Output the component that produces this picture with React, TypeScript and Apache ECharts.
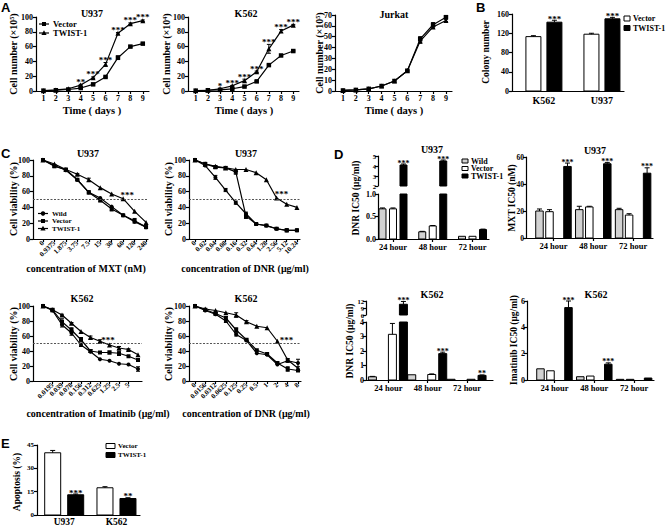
import React, { useEffect, useRef } from 'react';
import * as echarts from 'echarts';

const SERIF = '"Liberation Serif", "Times New Roman", serif';
const SANS = '"Liberation Sans", Arial, sans-serif';

// ================= Panel A: growth curves =================
const days = [1, 2, 3, 4, 5, 6, 7, 8, 9];
const dayLabels = ['1', '2', '3', '4', '5', '6', '7', '8', '9'];
const u937GrowthVector = [0.5, 1, 2, 4, 9, 19, 45, 60, 64];
const u937GrowthVectorErr = [0, 0, 0, 0.5, 0.8, 1, 2.5, 1, 1];
const u937GrowthTwist = [0.5, 1.5, 3, 8, 18, 36, 78, 91, 95];
const u937GrowthTwistErr = [0, 0, 0.5, 1, 1, 2.5, 1, 1, 1];
const u937GrowthStars = ['', '', '', '**', '***', '***', '***', '***', '***'];

const k562GrowthVector = [0.5, 1, 1.5, 3, 6, 13, 35, 48, 54];
const k562GrowthVectorErr = [0, 0, 0, 0.5, 0.5, 1, 1, 1, 1];
const k562GrowthTwist = [0.5, 1, 3, 7, 14, 26, 57, 81, 89];
const k562GrowthTwistErr = [0, 0, 0.5, 0.5, 2, 1, 6, 2, 1];
const k562GrowthStars = ['', '', '*', '***', '***', '***', '***', '***', '***'];

const jurkatGrowthVector = [0.5, 1, 2, 4.6, 9.2, 18.7, 48, 61, 68];
const jurkatGrowthVectorErr = [0, 0, 0, 0, 0, 0.5, 2, 2, 1];
const jurkatGrowthTwist = [0.5, 1, 2, 4.6, 9.2, 18.7, 46, 59, 65];
const jurkatGrowthTwistErr = [0, 0, 0, 0, 0, 0.5, 2, 1, 1];

// ================= Panel B: colony number =================
const colonyCells = ['K562', 'U937'];
const colonyVector = [113, 118];
const colonyVectorErr = [2, 2];
const colonyTwist = [143, 150];
const colonyTwistErr = [4, 3];
const colonyStars = ['***', '***'];

// ================= Panel C: viability curves =================
const mxtDoses = ['0', '0.9375', '1.875', '3.75', '7.5', '15', '30', '60', '120', '240'];
const u937MxtWild = [100, 93, 87, 75, 59, 52, 41, 30, 22, 15];
const u937MxtWildErr = [0, 0, 0, 0, 0, 0, 0, 0, 0, 0];
const u937MxtVector = [100, 92, 88, 75, 59, 49, 38, 30, 23, 15];
const u937MxtVectorErr = [0, 1.5, 1, 1, 2, 2, 2.5, 1, 3, 1.5];
const u937MxtTwist = [100, 95, 88, 82, 75, 65, 57, 51, 35, 21];
const u937MxtTwistErr = [0, 0, 1, 1, 2, 0, 0, 0, 0, 0];

const dnrU937Doses = ['0', '0.02', '0.04', '0.08', '0.16', '0.32', '0.64', '1.28', '2.56', '5.12', '10.24'];
const u937DnrWild = [100, 93, 78, 62, 46, 32, 19, 17, 13, 11, 11];
const u937DnrWildErr = [0, 1, 2.5, 2, 2, 2, 0, 0, 1, 1, 1];
const u937DnrVector = [100, 95, 91, 90, 85, 29, 19, 17, 13, 11, 11];
const u937DnrVectorErr = [0, 2, 2, 1.5, 3, 3, 1, 1, 1, 2, 1.5];
const u937DnrTwist = [100, 95, 92, 90, 88, 88, 84, 75, 52, 44, 40];
const u937DnrTwistErr = [0, 0, 0, 0, 0, 0, 0, 0, 0, 0, 0];

const imaDoses = ['0', '0.0195', '0.039', '0.078', '0.156', '0.312', '0.625', '1.25', '2.5', '5', '10'];
const k562ImaWild = [100, 94, 75, 64, 48, 39, 29, 27, 23, 22, 16];
const k562ImaWildErr = [0, 0, 3, 3, 2, 0, 0, 0, 0, 0, 3];
const k562ImaVector = [100, 95, 79, 68, 55, 40, 38, 38, 37, 33, 28];
const k562ImaVectorErr = [0, 1, 4, 3, 3, 2, 0, 2, 3, 0, 2];
const k562ImaTwist = [100, 95, 88, 77, 66, 58, 53, 48, 44, 42, 35];
const k562ImaTwistErr = [0, 1, 1, 1, 0, 2, 2, 0, 2, 1, 0];

const dnrK562Doses = ['0', '0.0156', '0.0312', '0.0625', '0.125', '0.25', '0.5', '1', '2', '4', '8'];
const k562DnrWild = [100, 94, 89, 80, 62, 54, 37, 35, 22, 27, 24];
const k562DnrWildErr = [0, 0, 1, 2, 2, 0, 0, 0, 0, 2, 5];
const k562DnrVector = [100, 95, 90, 84, 68, 55, 41, 36, 24, 16, 14];
const k562DnrVectorErr = [0, 1, 2, 2, 3, 1, 0, 1, 1, 3, 0];
const k562DnrTwist = [100, 96, 94, 91, 88, 79, 73, 71, 53, 28, 17];
const k562DnrTwistErr = [0, 0, 0, 0, 3, 1.5, 0, 0, 0, 2, 0];

// ================= Panel D: IC50 =================
const icTimes = ['24 hour', '48 hour', '72 hour'];
const u937DnrIcWild = [0.67, 0.16, 0.06];
const u937DnrIcWildErr = [0.02, 0.01, 0];
const u937DnrIcVector = [0.67, 0.29, 0.06];
const u937DnrIcVectorErr = [0.02, 0.01, 0];
const u937DnrIcTwist = [4.1, 4.5, 0.21];
const u937DnrIcTwistErr = [0.1, 0.1, 0.01];
const u937DnrIcStars = ['***', '***', ''];

const u937MxtIcWild = [20, 21, 21];
const u937MxtIcWildErr = [1.5, 2.5, 1];
const u937MxtIcVector = [19.5, 23, 17];
const u937MxtIcVectorErr = [1.5, 0.5, 1];
const u937MxtIcTwist = [53, 55, 48];
const u937MxtIcTwistErr = [2.5, 1, 4];
const u937MxtIcStars = ['***', '***', '***'];

const k562DnrIcWild = [0.22, 0.36, 0.05];
const k562DnrIcWildErr = [0.03, 0, 0];
const k562DnrIcVector = [3.15, 0.38, 0.05];
const k562DnrIcVectorErr = [0.75, 0.04, 0];
const k562DnrIcTwist = [10.6, 1.82, 0.32];
const k562DnrIcTwistErr = [1.2, 0.1, 0.03];
const k562DnrIcStars = ['***', '***', '**'];

const k562ImaIcWild = [0.85, 0.25, 0.05];
const k562ImaIcWildErr = [0, 0, 0];
const k562ImaIcVector = [0.7, 0.3, 0.05];
const k562ImaIcVectorErr = [0, 0, 0];
const k562ImaIcTwist = [5.5, 1.2, 0.15];
const k562ImaIcTwistErr = [0.5, 0.1, 0];
const k562ImaIcStars = ['***', '***', ''];

// ================= Panel E: apoptosis =================
const apoCells = ['U937', 'K562'];
const apoVector = [40, 17.5];
const apoVectorErr = [1.5, 0.7];
const apoTwist = [13, 10.6];
const apoTwistErr = [0.5, 0.5];
const apoStars = ['***', '**'];

// ================= builders =================
const BLACK = '#000';
const GRAY = '#d2d2d2';

function idxs(n: number) {
  return Array.from({ length: n }, (_, i) => i);
}

function buildOption() {
  const grid: any[] = [];
  const xAxis: any[] = [];
  const yAxis: any[] = [];
  const series: any[] = [];
  const graphic: any[] = [];

  const axisLineStyle = { color: BLACK, width: 1.2 };
  const labelBase = { color: BLACK, fontFamily: SERIF, fontWeight: 'bold' };

  function addPlot(g: any, x: any, y: any) {
    const idx = grid.length;
    grid.push({ left: g.left, top: g.top, width: g.width, height: g.height, containLabel: false });
    xAxis.push({
      type: 'value',
      gridIndex: idx,
      min: x.min,
      max: x.max,
      show: x.show !== false,
      axisLine: { show: true, onZero: false, lineStyle: axisLineStyle },
      axisTick: { show: x.showTick !== false, length: 3, customValues: x.ticks, lineStyle: axisLineStyle },
      axisLabel: {
        ...labelBase,
        fontSize: x.fontSize ?? 8,
        margin: x.margin ?? 3,
        rotate: x.rotate ?? 0,
        customValues: x.ticks,
        formatter: (v: number) => {
          const i = (x.ticks || []).findIndex((t: number) => Math.abs(t - v) < 1e-6);
          return i >= 0 ? x.labels[i] : '';
        },
      },
      splitLine: { show: false },
    });
    yAxis.push({
      type: 'value',
      gridIndex: idx,
      min: y.min,
      max: y.max,
      interval: y.interval,
      axisLine: { show: true, onZero: false, lineStyle: axisLineStyle },
      axisTick: { show: true, length: 3, lineStyle: axisLineStyle },
      axisLabel: { ...labelBase, fontSize: y.fontSize ?? 8, margin: y.margin ?? 3, formatter: y.formatter },
      splitLine: { show: false },
    });
    return idx;
  }

  function lineSeries(ax: number, name: string, xs: number[], vals: number[], symbol: string, size: number, extra: any = {}) {
    return {
      type: 'line',
      name,
      xAxisIndex: ax,
      yAxisIndex: ax,
      data: xs.map((x, i) => [x, vals[i]]),
      symbol,
      symbolSize: size,
      showSymbol: true,
      silent: true,
      clip: false,
      lineStyle: { color: BLACK, width: 1.2 },
      itemStyle: { color: BLACK, borderWidth: 0 },
      emphasis: { disabled: true },
      z: 3,
      ...extra,
    };
  }

  function errSeries(ax: number, xs: number[], vals: number[], errs: number[]) {
    return {
      type: 'custom',
      xAxisIndex: ax,
      yAxisIndex: ax,
      silent: true,
      z: 4,
      data: xs.map((x, i) => [x, vals[i], errs[i]]),
      renderItem: (params: any, api: any) => {
        const x = api.value(0);
        const v = api.value(1);
        const e = api.value(2);
        if (!e) return { type: 'group', children: [] };
        const lo = api.coord([x, v - e]);
        const hi = api.coord([x, v + e]);
        const st = { stroke: BLACK, lineWidth: 1 };
        return {
          type: 'group',
          children: [
            { type: 'line', shape: { x1: lo[0], y1: lo[1], x2: hi[0], y2: hi[1] }, style: st },
            { type: 'line', shape: { x1: hi[0] - 2, y1: hi[1], x2: hi[0] + 2, y2: hi[1] }, style: st },
            { type: 'line', shape: { x1: lo[0] - 2, y1: lo[1], x2: lo[0] + 2, y2: lo[1] }, style: st },
          ],
        };
      },
    };
  }

  function starSeries(ax: number, pts: number[][], texts: string[], dx = 0, dy = 0, size = 9) {
    return {
      type: 'custom',
      xAxisIndex: ax,
      yAxisIndex: ax,
      silent: true,
      z: 5,
      data: pts,
      renderItem: (params: any, api: any) => {
        const t = texts[params.dataIndex];
        if (!t) return { type: 'group', children: [] };
        const p = api.coord([api.value(0), api.value(1)]);
        return {
          type: 'text',
          x: p[0] + dx,
          y: p[1] + dy,
          style: {
            text: t,
            textAlign: 'center',
            textVerticalAlign: 'bottom',
            fontFamily: SERIF,
            fontWeight: 'bold',
            fontSize: size,
            fill: BLACK,
          },
        };
      },
    };
  }

  function barSeries(ax: number, name: string, xs: number[], vals: number[], errs: number[], offset: number, w: number, fill: string, stars?: string[], starSize = 9) {
    return {
      type: 'custom',
      name,
      xAxisIndex: ax,
      yAxisIndex: ax,
      silent: true,
      z: 3,
      data: xs.map((x, i) => [x, vals[i], errs[i]]),
      renderItem: (params: any, api: any) => {
        const x = api.value(0);
        const v = api.value(1);
        const e = api.value(2);
        const cs = params.coordSys;
        const p0 = api.coord([x, 0]);
        const p1 = api.coord([x, v]);
        const cx = p0[0] + offset;
        const children: any[] = [];
        const top = Math.max(p1[1], cs.y);
        const bottom = Math.min(p0[1], cs.y + cs.height);
        if (bottom > top) {
          children.push({
            type: 'rect',
            shape: { x: cx - w / 2, y: top, width: w, height: bottom - top },
            style: { fill, stroke: BLACK, lineWidth: 1 },
          });
        }
        const inRange = p1[1] >= cs.y - 0.5 && p1[1] <= cs.y + cs.height + 0.5;
        let labelY = p1[1];
        if (inRange && e > 0) {
          const pe = api.coord([x, v + e]);
          const st = { stroke: BLACK, lineWidth: 1 };
          children.push({ type: 'line', shape: { x1: cx, y1: p1[1], x2: cx, y2: pe[1] }, style: st });
          children.push({ type: 'line', shape: { x1: cx - 2.5, y1: pe[1], x2: cx + 2.5, y2: pe[1] }, style: st });
          labelY = pe[1];
        }
        const s = stars ? stars[params.dataIndex] : '';
        if (inRange && s) {
          children.push({
            type: 'text',
            x: cx,
            y: labelY + 3,
            style: {
              text: s,
              textAlign: 'center',
              textVerticalAlign: 'bottom',
              fontFamily: SERIF,
              fontWeight: 'bold',
              fontSize: starSize,
              fill: BLACK,
            },
          });
        }
        return { type: 'group', children };
      },
    };
  }

  const txt = (x: number, y: number, text: string, o: any = {}) => ({
    type: 'text',
    x,
    y,
    rotation: o.rot ?? 0,
    silent: true,
    style: {
      text,
      fill: BLACK,
      fontFamily: o.family ?? SERIF,
      fontWeight: 'bold',
      fontSize: o.size ?? 10,
      textAlign: o.align ?? 'center',
      textVerticalAlign: o.va ?? 'middle',
    },
  });
  const yName = (x: number, y: number, text: string, size = 10) => txt(x, y, text, { rot: Math.PI / 2, size });

  const marker = (cx: number, cy: number, sym: string) => {
    if (sym === 'rect') return { type: 'rect', silent: true, shape: { x: cx - 2, y: cy - 2, width: 4, height: 4 }, style: { fill: BLACK } };
    if (sym === 'circle') return { type: 'circle', silent: true, shape: { cx, cy, r: 2.2 }, style: { fill: BLACK } };
    return { type: 'polygon', silent: true, shape: { points: [[cx, cy - 2.8], [cx + 2.6, cy + 2], [cx - 2.6, cy + 2]] }, style: { fill: BLACK } };
  };
  const lineLegend = (x: number, y: number, label: string, sym: string, size = 8.5) => [
    { type: 'line', silent: true, shape: { x1: x, y1: y, x2: x + 10, y2: y }, style: { stroke: BLACK, lineWidth: 1.2 } },
    marker(x + 5, y, sym),
    txt(x + 14, y, label, { align: 'left', size }),
  ];
  const boxLegend = (x: number, y: number, w: number, h: number, fill: string, label: string, size = 8) => [
    { type: 'rect', silent: true, shape: { x, y: y - h / 2, width: w, height: h }, style: { fill, stroke: BLACK, lineWidth: 1 } },
    txt(x + w + 3, y, label, { align: 'left', size }),
  ];

  // ---------- Panel A ----------
  const a1 = addPlot({ left: 36, top: 17, width: 113, height: 74 }, { min: 0.4, max: 9.5, ticks: days, labels: dayLabels }, { min: 0, max: 100, interval: 20 });
  const a2 = addPlot({ left: 188, top: 17, width: 111, height: 74 }, { min: 0.37, max: 9.47, ticks: days, labels: dayLabels }, { min: 0, max: 100, interval: 20 });
  const a3 = addPlot({ left: 335, top: 15, width: 117, height: 76 }, { min: 0.38, max: 9.47, ticks: days, labels: dayLabels }, { min: 0, max: 70, interval: 10 });

  const growth = [
    [a1, u937GrowthVector, u937GrowthVectorErr, u937GrowthTwist, u937GrowthTwistErr, u937GrowthStars],
    [a2, k562GrowthVector, k562GrowthVectorErr, k562GrowthTwist, k562GrowthTwistErr, k562GrowthStars],
    [a3, jurkatGrowthVector, jurkatGrowthVectorErr, jurkatGrowthTwist, jurkatGrowthTwistErr, null],
  ] as any[];
  growth.forEach(([ax, vec, vecErr, tw, twErr, stars]) => {
    series.push(lineSeries(ax, 'Vector', days, vec, 'rect', 4.5));
    series.push(lineSeries(ax, 'TWIST-1', days, tw, 'triangle', 5));
    series.push(errSeries(ax, days, vec, vecErr));
    series.push(errSeries(ax, days, tw, twErr));
    if (stars) {
      series.push(starSeries(ax, days.map((d, i) => [d, tw[i] + twErr[i]]), stars, 0, 2, 9));
    }
  });

  // ---------- Panel B ----------
  const b = addPlot({ left: 512, top: 14, width: 112, height: 77 }, { min: -0.55, max: 1.38, ticks: [0, 1], labels: colonyCells, fontSize: 10, showTick: false, margin: 4 }, { min: 0, max: 160, interval: 40 });
  series.push(barSeries(b, 'Vector', [0, 1], colonyVector, colonyVectorErr, -10.5, 15, '#fff'));
  series.push(barSeries(b, 'TWIST-1', [0, 1], colonyTwist, colonyTwistErr, 10.5, 15, BLACK, colonyStars));

  // ---------- Panel C ----------
  const dashed = {
    silent: true,
    symbol: ['none', 'none'],
    label: { show: false },
    lineStyle: { color: '#555', type: [2, 1.5], width: 1 },
    data: [{ yAxis: 50 }],
  };
  const c1 = addPlot({ left: 33, top: 160, width: 115, height: 79 }, { min: -0.87, max: 9.17, ticks: idxs(10), labels: mxtDoses, rotate: 45, fontSize: 7 }, { min: 0, max: 100, interval: 20 });
  const c2 = addPlot({ left: 189, top: 160, width: 111, height: 79 }, { min: -0.59, max: 10.3, ticks: idxs(11), labels: dnrU937Doses, rotate: 45, fontSize: 7 }, { min: 0, max: 100, interval: 20 });
  const c3 = addPlot({ left: 33, top: 306, width: 109, height: 75 }, { min: -1.05, max: 10.42, ticks: idxs(11), labels: imaDoses, rotate: 45, fontSize: 7 }, { min: 0, max: 100, interval: 20 });
  const c4 = addPlot({ left: 189, top: 306, width: 112, height: 75 }, { min: -0.58, max: 10.29, ticks: idxs(11), labels: dnrK562Doses, rotate: 45, fontSize: 7 }, { min: 0, max: 100, interval: 20 });

  const viability = [
    [c1, u937MxtWild, u937MxtWildErr, u937MxtVector, u937MxtVectorErr, u937MxtTwist, u937MxtTwistErr, 7, 4, 1],
    [c2, u937DnrWild, u937DnrWildErr, u937DnrVector, u937DnrVectorErr, u937DnrTwist, u937DnrTwistErr, 8, 5, 1],
    [c3, k562ImaWild, k562ImaWildErr, k562ImaVector, k562ImaVectorErr, k562ImaTwist, k562ImaTwistErr, 6, 8, 3],
    [c4, k562DnrWild, k562DnrWildErr, k562DnrVector, k562DnrVectorErr, k562DnrTwist, k562DnrTwistErr, 8, 9, 3],
  ] as any[];
  viability.forEach(([ax, wild, wildErr, vec, vecErr, tw, twErr, starIdx, sdx, sdy]) => {
    const xs = idxs(wild.length);
    series.push(lineSeries(ax, 'Wild', xs, wild, 'circle', 4));
    series.push(lineSeries(ax, 'Vector', xs, vec, 'rect', 4));
    series.push(lineSeries(ax, 'TWIST-1', xs, tw, 'triangle', 5, { markLine: dashed }));
    series.push(errSeries(ax, xs, wild, wildErr));
    series.push(errSeries(ax, xs, vec, vecErr));
    series.push(errSeries(ax, xs, tw, twErr));
    series.push(starSeries(ax, [[starIdx, tw[starIdx]]], ['***'], sdx, sdy, 9));
  });

  // ---------- Panel D ----------
  const t3 = [0, 1, 2];
  const dLow1 = addPlot({ left: 378, top: 194, width: 111, height: 45 }, { min: -0.377, max: 2.415, ticks: t3, labels: icTimes, fontSize: 8.5 }, { min: 0, max: 1, interval: 0.5, margin: 2, formatter: (v: number) => v.toFixed(1) });
  const dUp1 = addPlot({ left: 378, top: 156, width: 111, height: 30 }, { min: -0.377, max: 2.415, show: false }, { min: 2, max: 5, interval: 1, fontSize: 6.5, margin: 2 });
  [dLow1, dUp1].forEach((ax) => {
    series.push(barSeries(ax, 'Wild', t3, u937DnrIcWild, u937DnrIcWildErr, -10.5, 7, GRAY));
    series.push(barSeries(ax, 'Vector', t3, u937DnrIcVector, u937DnrIcVectorErr, 0, 7, '#fff'));
    series.push(barSeries(ax, 'TWIST-1', t3, u937DnrIcTwist, u937DnrIcTwistErr, 10.5, 7, BLACK, u937DnrIcStars, 8));
  });

  const d2 = addPlot({ left: 526, top: 157, width: 127, height: 81 }, { min: -0.69, max: 2.5, ticks: t3, labels: icTimes, fontSize: 8.5 }, { min: 0, max: 60, interval: 20, margin: 2, fontSize: 7.5 });
  series.push(barSeries(d2, 'Wild', t3, u937MxtIcWild, u937MxtIcWildErr, -14, 7.5, GRAY));
  series.push(barSeries(d2, 'Vector', t3, u937MxtIcVector, u937MxtIcVectorErr, -4, 7.5, '#fff'));
  series.push(barSeries(d2, 'TWIST-1', t3, u937MxtIcTwist, u937MxtIcTwistErr, 14, 7.5, BLACK, u937MxtIcStars, 8));

  const dLow3 = addPlot({ left: 366, top: 322, width: 127, height: 58 }, { min: -0.57, max: 2.66, ticks: t3, labels: icTimes, fontSize: 8.5 }, { min: 0, max: 4, interval: 1, margin: 2 });
  const dUp3 = addPlot({ left: 366, top: 301, width: 127, height: 14 }, { min: -0.57, max: 2.66, show: false }, { min: 6, max: 12, interval: 3, fontSize: 6.5, margin: 2 });
  [dLow3, dUp3].forEach((ax) => {
    series.push(barSeries(ax, 'Wild', t3, k562DnrIcWild, k562DnrIcWildErr, -16, 8, GRAY));
    series.push(barSeries(ax, 'Vector', t3, k562DnrIcVector, k562DnrIcVectorErr, 4, 8, '#fff'));
    series.push(barSeries(ax, 'TWIST-1', t3, k562DnrIcTwist, k562DnrIcTwistErr, 15, 8, BLACK, k562DnrIcStars, 8));
  });

  const d4 = addPlot({ left: 527, top: 301, width: 127, height: 79 }, { min: -0.69, max: 2.5, ticks: t3, labels: icTimes, fontSize: 8.5 }, { min: 0, max: 6, interval: 2, margin: 2 });
  series.push(barSeries(d4, 'Wild', t3, k562ImaIcWild, k562ImaIcWildErr, -14, 7.5, GRAY));
  series.push(barSeries(d4, 'Vector', t3, k562ImaIcVector, k562ImaIcVectorErr, -4, 7.5, '#fff'));
  series.push(barSeries(d4, 'TWIST-1', t3, k562ImaIcTwist, k562ImaIcTwistErr, 14, 7.5, BLACK, k562ImaIcStars, 8));

  // ---------- Panel E ----------
  const e = addPlot({ left: 37, top: 445, width: 103, height: 72 }, { min: -0.52, max: 1.45, ticks: [0, 1], labels: apoCells, fontSize: 9.5, showTick: false, margin: 2 }, { min: 0, max: 45, interval: 15, fontSize: 7 });
  series.push(barSeries(e, 'Vector', [0, 1], apoVector, apoVectorErr, -11.5, 16, '#fff'));
  series.push(barSeries(e, 'TWIST-1', [0, 1], apoTwist, apoTwistErr, 11.5, 16, BLACK, apoStars));

  // ---------- texts ----------
  const letter = (x: number, y: number, t: string) => txt(x, y, t, { family: SANS, size: 13, align: 'left', va: 'top' });
  graphic.push(letter(1, 1, 'A'), letter(476, 1, 'B'), letter(1, 147, 'C'), letter(334, 148, 'D'), letter(1, 437, 'E'));

  graphic.push(
    txt(92, 13, 'U937'), txt(246, 13, 'K562'), txt(394, 14, 'Jurkat'),
    txt(88, 153, 'U937'), txt(246, 153, 'U937'), txt(82, 298, 'K562'), txt(246, 298, 'K562'),
    txt(432, 149, 'U937'), txt(595, 150, 'U937'), txt(432, 294, 'K562'), txt(596, 294, 'K562'),
  );
  graphic.push(
    txt(92, 110, 'Time ( days )', { size: 10.5 }),
    txt(244, 110, 'Time ( days )', { size: 10.5 }),
    txt(394, 110, 'Time ( days )', { size: 10.5 }),
    txt(86, 268, 'concentration of MXT (nM)'),
    txt(245, 268, 'concentration of DNR (μg/ml)'),
    txt(98, 413, 'concentration of Imatinib (μg/ml)'),
    txt(246, 413, 'concentration of DNR (μg/ml)'),
  );
  graphic.push(
    yName(13, 54, 'Cell number (×10⁵)'),
    yName(166, 54, 'Cell number (×10⁴)'),
    yName(319, 53, 'Cell number (×10⁵)'),
    yName(486, 52, 'Colony number', 9.5),
    yName(13, 199, 'Cell viability (%)'),
    yName(168, 199, 'Cell viability (%)'),
    yName(13, 344, 'Cell viability (%)'),
    yName(168, 344, 'Cell viability (%)'),
    yName(356, 198, 'DNR IC50 (μg/ml)', 9.5),
    yName(512, 198, 'MXT IC50 (nM)', 9.5),
    yName(350, 341, 'DNR IC50 (μg/ml)', 9.5),
    yName(514, 340, 'Imatinib IC50 (μg/ml)', 9.5),
    yName(17, 482, 'Apoptosis (%)', 9.5),
  );

  // legends
  graphic.push(...lineLegend(39, 24, 'Vector', 'rect'), ...lineLegend(39, 33, 'TWIST-1', 'triangle'));
  graphic.push(
    ...lineLegend(38, 213.5, 'Wild', 'circle', 7),
    ...lineLegend(38, 221, 'Vector', 'rect', 7),
    ...lineLegend(38, 228.5, 'TWIST-1', 'triangle', 7),
  );
  graphic.push(...boxLegend(624, 18.5, 6, 5, '#fff', 'Vector', 8), ...boxLegend(624, 28, 6, 5, BLACK, 'TWIST-1', 8));
  graphic.push(
    ...boxLegend(462, 161, 6, 4, GRAY, 'Wild', 8),
    ...boxLegend(462, 168.5, 6, 4, '#fff', 'Vector', 8),
    ...boxLegend(462, 176, 6, 4, BLACK, 'TWIST-1', 8),
  );
  graphic.push(...boxLegend(106, 446, 9, 5, '#fff', 'Vector', 7), ...boxLegend(106, 455, 9, 5, BLACK, 'TWIST-1', 7));

  return {
    animation: false,
    backgroundColor: '#fff',
    grid,
    xAxis,
    yAxis,
    series,
    graphic: { elements: graphic },
  };
}

export default function App() {
  const ref = useRef<HTMLDivElement>(null);
  useEffect(() => {
    document.body.style.margin = '0';
    const chart = echarts.init(ref.current as HTMLDivElement, null, { renderer: 'svg' });
    chart.setOption(buildOption() as any);
    return () => {
      chart.dispose();
    };
  }, []);
  return <div ref={ref} style={{ width: 666, height: 527, background: '#fff' }} />;
}
